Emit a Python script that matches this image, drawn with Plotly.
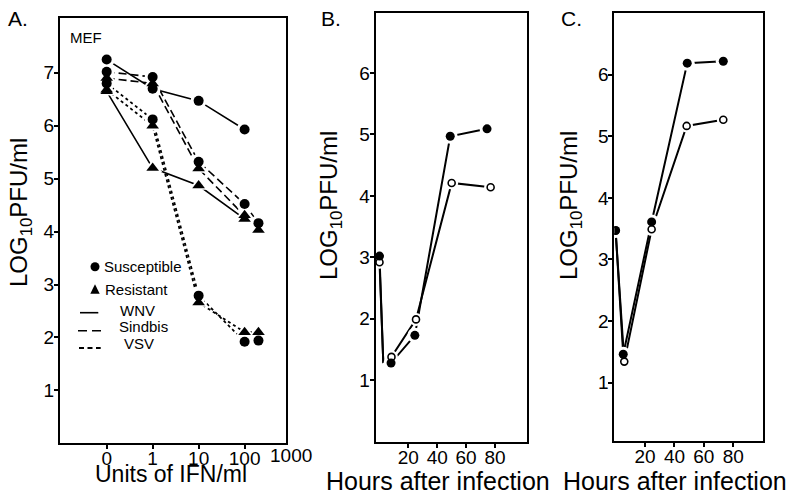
import math
import plotly.graph_objects as go

# ---------------- data ----------------
# Panel A: virus yield vs IFN dose (MEF)
ifn_units = [0, 1, 10, 100, 200]
ifn_tick_labels = ["0", "1", "10", "100", "1000"]
ifn_tick_units = [0, 1, 10, 100, 1000]

wnv_susceptible = [7.25, 6.70, 6.47, 5.93]
wnv_resistant = [6.65, 5.20, 4.87, 4.24]
sindbis_susceptible = [7.02, 6.92, 5.32, 4.52, 4.16]
sindbis_resistant = [6.90, 6.80, 5.19, 4.31, 4.03]
vsv_susceptible = [6.80, 6.12, 2.79, 1.92, 1.94]
vsv_resistant = [6.68, 6.00, 2.66, 2.10, 2.10]

# Panel B: growth curve (hours after infection)
b_hours_filled = [0, 2.6, 8, 24.5, 49, 74.5]
b_filled = [3.02, 1.30, 1.28, 1.73, 4.97, 5.09]
b_hours_open = [0, 2.6, 8.3, 25.3, 50, 77]
b_open = [2.92, 1.30, 1.38, 1.99, 4.21, 4.14]

# Panel C: growth curve (hours after infection)
c_hours_filled = [0, 5.2, 24.5, 48.7, 73.2]
c_filled = [3.47, 1.46, 3.61, 6.19, 6.22]
c_hours_open = [0, 5.9, 24.5, 48.3, 73.2]
c_open = [3.47, 1.34, 3.49, 5.17, 5.27]

hour_ticks = [20, 40, 60, 80]

# ---------------- layout helpers ----------------
W, H = 791, 498


def px(x):
    return x / W


def py(y):
    return 1 - y / H


def ifn_pos(u):
    return 0 if u == 0 else math.log10(u) + 1


FONT = "Liberation Sans, Arial, sans-serif"
INK = "black"

fig = go.Figure()


def add_series(xaxis, yaxis, x, y, dash, symbol, size, filled, width=1.6, mark_idx=None):
    fig.add_trace(go.Scatter(x=x, y=y, mode="lines", xaxis=xaxis, yaxis=yaxis,
                             line=dict(color=INK, width=width, dash=dash),
                             hoverinfo="skip", showlegend=False))
    if mark_idx is None:
        mark_idx = list(range(len(x)))
    mx = [x[i] for i in mark_idx]
    my = [y[i] for i in mark_idx]
    return (xaxis, yaxis, mx, my, symbol, size, filled)


def draw_markers(specs):
    for xaxis, yaxis, mx, my, symbol, size, filled in specs:
        fig.add_trace(go.Scatter(x=mx, y=my, mode="markers", xaxis=xaxis, yaxis=yaxis,
                                 marker=dict(symbol=symbol, size=size + 6, color="white",
                                             line=dict(width=0)),
                                 hoverinfo="skip", showlegend=False))
    for xaxis, yaxis, mx, my, symbol, size, filled in specs:
        fig.add_trace(go.Scatter(x=mx, y=my, mode="markers", xaxis=xaxis, yaxis=yaxis,
                                 marker=dict(symbol=symbol, size=size,
                                             color=INK if filled else "white",
                                             line=dict(color=INK, width=0 if filled else 1.6)),
                                 hoverinfo="skip", showlegend=False))


# ---------------- Panel A ----------------
xa = [ifn_pos(u) for u in ifn_units]
DOT = "3px,3px"
DASH = "8px,4px"
specsA = []
specsA.append(add_series("x", "y", xa[:4], wnv_susceptible, "solid", "circle", 10, True))
specsA.append(add_series("x", "y", xa[:4], wnv_resistant, "solid", "triangle-up", 11, True))
specsA.append(add_series("x", "y", xa, sindbis_susceptible, DASH, "circle", 10, True))
specsA.append(add_series("x", "y", xa, sindbis_resistant, DASH, "triangle-up", 11, True))
specsA.append(add_series("x", "y", xa, vsv_susceptible, DOT, "circle", 10, True, width=1.8))
specsA.append(add_series("x", "y", xa, vsv_resistant, DOT, "triangle-up", 11, True, width=1.8))
draw_markers(specsA)

# ---------------- Panel B ----------------
specsB = []
specsB.append(add_series("x2", "y2", b_hours_open, b_open, "solid", "circle", 7, False,
                         width=2, mark_idx=[0, 2, 3, 4, 5]))
specsB.append(add_series("x2", "y2", b_hours_filled, b_filled, "solid", "circle", 9, True,
                         width=2, mark_idx=[0, 2, 3, 4, 5]))
draw_markers(specsB)

# ---------------- Panel C ----------------
specsC = []
specsC.append(add_series("x3", "y3", c_hours_open, c_open, "solid", "circle", 7, False, width=2))
specsC.append(add_series("x3", "y3", c_hours_filled, c_filled, "solid", "circle", 9, True, width=2))
draw_markers(specsC)

# ---------------- axes ----------------
A_box = dict(x0=60, x1=286, y0=18.3, y1=443.3)
B_box = dict(x0=375.7, x1=527.3, y0=13.3, y1=441.7)
C_box = dict(x0=614.3, x1=762.7, y0=13.3, y1=441.0)

A_xrange = [-1.015, 3.9]
B_xrange = [-2.63, 102.4]
C_xrange = [-0.88, 100.0]


def axis_common(**kw):
    d = dict(showline=True, linecolor=INK, linewidth=2, mirror=True, ticks="outside",
             ticklen=4, tickwidth=1.5, tickcolor=INK, showgrid=False, zeroline=False,
             tickfont=dict(family=FONT, size=19, color=INK), fixedrange=True)
    d.update(kw)
    return d


XSO = -7
YSO = -4
fig.update_layout(
    width=W, height=H,
    margin=dict(l=0, r=0, t=0, b=0),
    paper_bgcolor="white", plot_bgcolor="white",
    showlegend=False,
    xaxis=axis_common(domain=[px(A_box["x0"]), px(A_box["x1"])], range=A_xrange,
                      tickvals=[ifn_pos(u) for u in ifn_tick_units[:4]],
                      ticktext=ifn_tick_labels[:4], anchor="y", ticklabelstandoff=XSO),
    yaxis=axis_common(domain=[py(A_box["y1"]), py(A_box["y0"])], range=[0, 8.03],
                      tickvals=[1, 2, 3, 4, 5, 6, 7], anchor="x", ticklabelstandoff=YSO),
    xaxis2=axis_common(domain=[px(B_box["x0"]), px(B_box["x1"])], range=B_xrange,
                       tickvals=hour_ticks, anchor="y2", ticklabelstandoff=XSO),
    yaxis2=axis_common(domain=[py(B_box["y1"]), py(B_box["y0"])], range=[0, 6.97],
                       tickvals=[1, 2, 3, 4, 5, 6], anchor="x2", ticklabelstandoff=YSO),
    xaxis3=axis_common(domain=[px(C_box["x0"]), px(C_box["x1"])], range=C_xrange,
                       tickvals=hour_ticks, anchor="y3", ticklabelstandoff=XSO),
    yaxis3=axis_common(domain=[py(C_box["y1"]), py(C_box["y0"])], range=[0.05, 7.0],
                       tickvals=[1, 2, 3, 4, 5, 6], anchor="x3", ticklabelstandoff=YSO),
)

# "1000" tick label sits just beyond the right edge of panel A's axis
dA = [px(A_box["x0"]), px(A_box["x1"])]
pos1000 = ifn_pos(ifn_tick_units[4])
x1000 = dA[0] + (pos1000 - A_xrange[0]) / (A_xrange[1] - A_xrange[0]) * (dA[1] - dA[0])

ann = []


def text(x, y, s, size, xanchor="left", angle=0):
    ann.append(dict(x=px(x), y=py(y), xref="paper", yref="paper", text=s, showarrow=False,
                    xanchor=xanchor, yanchor="middle", textangle=angle,
                    font=dict(family=FONT, size=size, color=INK)))


ann.append(dict(x=x1000, y=py(455), xref="paper", yref="paper", text=ifn_tick_labels[4],
                showarrow=False, xanchor="center", yanchor="middle",
                font=dict(family=FONT, size=19, color=INK)))

text(6, 18, "A.", 21)
text(319, 18, "B.", 21)
text(559, 18, "C.", 21)
text(68, 37, "MEF", 15)

ytitle = "LOG<sub>10</sub>PFU/ml"
text(20, 213, ytitle, 24, xanchor="center", angle=-90)
text(330, 206, ytitle, 24, xanchor="center", angle=-90)
text(570, 206, ytitle, 24, xanchor="center", angle=-90)

text(171, 474, "Units of IFN/ml", 23, xanchor="center")
text(438, 481, "Hours after infection", 25, xanchor="center")
text(675, 481, "Hours after infection", 25, xanchor="center")

# legend of panel A
text(102, 266, "Susceptible", 15)
text(103, 289, "Resistant", 15)
text(118, 310, "WNV", 15)
text(117, 326, "Sindbis", 15)
text(122, 343, "VSV", 15)
fig.update_layout(annotations=ann)

shapes = []
r = 4.5
shapes.append(dict(type="circle", xref="paper", yref="paper",
                   x0=px(95 - r), x1=px(95 + r), y0=py(266.7 + r), y1=py(266.7 - r),
                   fillcolor=INK, line=dict(width=0)))
tri = f"M {px(90.3)},{py(293.8)} L {px(99.7)},{py(293.8)} L {px(95)},{py(284.3)} Z"
shapes.append(dict(type="path", xref="paper", yref="paper", path=tri,
                   fillcolor=INK, line=dict(width=0)))
shapes.append(dict(type="line", xref="paper", yref="paper", x0=px(80), x1=px(98.3),
                   y0=py(312.7), y1=py(312.7), line=dict(color=INK, width=1.6)))
shapes.append(dict(type="line", xref="paper", yref="paper", x0=px(78), x1=px(101.7),
                   y0=py(330.7), y1=py(330.7), line=dict(color=INK, width=1.6, dash="9px,5px")))
shapes.append(dict(type="line", xref="paper", yref="paper", x0=px(79), x1=px(100.7),
                   y0=py(348), y1=py(348), line=dict(color=INK, width=1.8, dash="5px,3.5px")))
fig.update_layout(shapes=shapes)

fig.write_html("out.html", config={"displayModeBar": False},
               post_script="document.body.style.margin='0';document.body.style.overflow='hidden';")
